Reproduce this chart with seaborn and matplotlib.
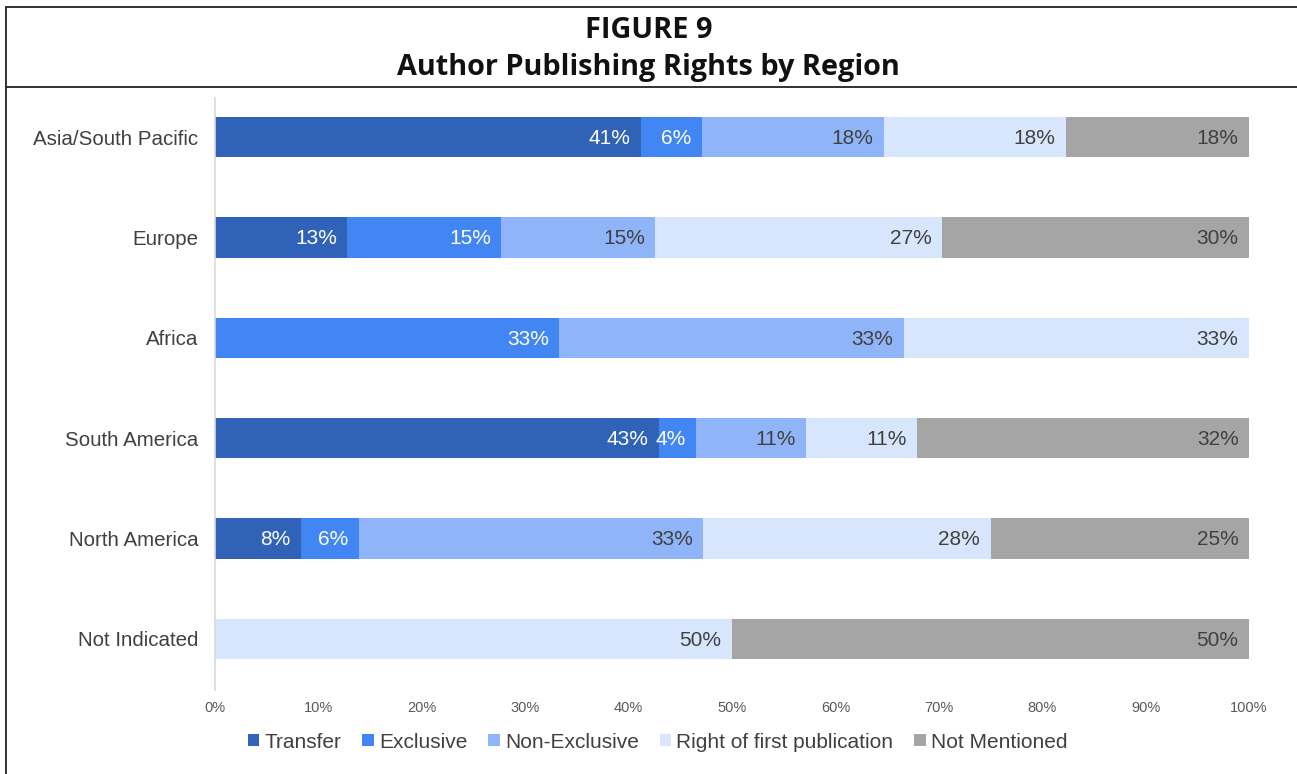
import matplotlib
matplotlib.use("Agg")
import matplotlib.pyplot as plt
import seaborn as sns
import pandas as pd
import numpy as np
from matplotlib.patches import Patch
from matplotlib.lines import Line2D

regions = ["Asia/South Pacific", "Europe", "Africa", "South America", "North America", "Not Indicated"]
series = ["Transfer", "Exclusive", "Non-Exclusive", "Right of first publication", "Not Mentioned"]
transfer = [41.2, 12.8, 0.0, 42.9, 8.3, 0.0]
exclusive = [5.9, 14.9, 33.3, 3.6, 5.6, 0.0]
non_exclusive = [17.6, 14.9, 33.3, 10.7, 33.3, 0.0]
right_first = [17.6, 27.7, 33.4, 10.7, 27.8, 50.0]
not_mentioned = [17.7, 29.7, 0.0, 32.1, 25.0, 50.0]
labels = {
    "Transfer": ["41%", "13%", "", "43%", "8%", ""],
    "Exclusive": ["6%", "15%", "33%", "4%", "6%", ""],
    "Non-Exclusive": ["18%", "15%", "33%", "11%", "33%", ""],
    "Right of first publication": ["18%", "27%", "33%", "11%", "28%", "50%"],
    "Not Mentioned": ["18%", "30%", "", "32%", "25%", "50%"],
}
colors = ["#3063B7", "#4286F3", "#8FB5F8", "#D7E6FC", "#A5A5A5"]
text_colors = ["white", "white", "#404040", "#404040", "#404040"]

sns.set_theme(style="white")
plt.rcParams["font.family"] = ["Liberation Sans", "DejaVu Sans"]

df = pd.DataFrame({"region": regions, "Transfer": transfer, "Exclusive": exclusive,
                   "Non-Exclusive": non_exclusive, "Right of first publication": right_first,
                   "Not Mentioned": not_mentioned})
cum = df[series].cumsum(axis=1)

fig = plt.figure(figsize=(12.97, 7.74), dpi=100)
ax = fig.add_axes([215/1297, 1-690/774, (1249-215)/1297, (690-98)/774])

for i in range(len(series) - 1, -1, -1):
    s = series[i]
    sns.barplot(x=cum[s], y=df["region"], orient="h", color=colors[i], ax=ax,
                width=0.4, saturation=1, linewidth=0)

for i, s in enumerate(series):
    for j, r in enumerate(regions):
        lab = labels[s][j]
        if lab:
            ax.annotate(lab, xy=(cum[s].iloc[j], j), xytext=(-7.5, -1), textcoords="offset points",
                        ha="right", va="center", fontsize=15, color=text_colors[i])

ax.set_xlim(0, 100)
ax.set_ylim(len(regions) - 1 + 0.51, -0.39)
ax.set_xticks(np.arange(0, 101, 10))
ax.set_xticklabels([f"{v}%" for v in range(0, 101, 10)], fontsize=10.5, color="#595959")
ax.tick_params(axis="x", length=0, pad=8)
ax.tick_params(axis="y", length=0, pad=12, labelsize=14.8, labelcolor="#404040")
ax.set_xlabel("")
ax.set_ylabel("")
for sp in ["top", "right", "bottom"]:
    ax.spines[sp].set_visible(False)
ax.spines["left"].set_color("#D9D9D9")
ax.spines["left"].set_linewidth(1.2)
ax.grid(False)

handles = [Patch(facecolor=c, edgecolor="none", label=s) for c, s in zip(colors, series)]
fig.legend(handles=handles, loc="center", bbox_to_anchor=(0.507, 1-742/774), ncol=5,
           frameon=False, fontsize=15, handlelength=0.55, handleheight=0.55,
           handletextpad=0.25, columnspacing=1.0, labelcolor="#404040")

fig.text(0.5, 1-31/774, "FIGURE 9", ha="center", va="center", fontsize=20.8,
         fontweight="bold", family=["Open Sans", "DejaVu Sans"], color="#111111")
fig.text(0.5, 1-67/774, "Author Publishing Rights by Region", ha="center", va="center",
         fontsize=20.8, fontweight="bold", family=["Open Sans", "DejaVu Sans"], color="#111111")

fig.add_artist(Line2D([6/1297, 1], [1-7/774, 1-7/774], color="#222222", lw=1.3))
fig.add_artist(Line2D([6/1297, 1], [1-87/774, 1-87/774], color="#222222", lw=1.3))
fig.add_artist(Line2D([6/1297, 6/1297], [0, 1-7/774], color="#222222", lw=1.3))

fig.savefig("out.png", dpi=100)
